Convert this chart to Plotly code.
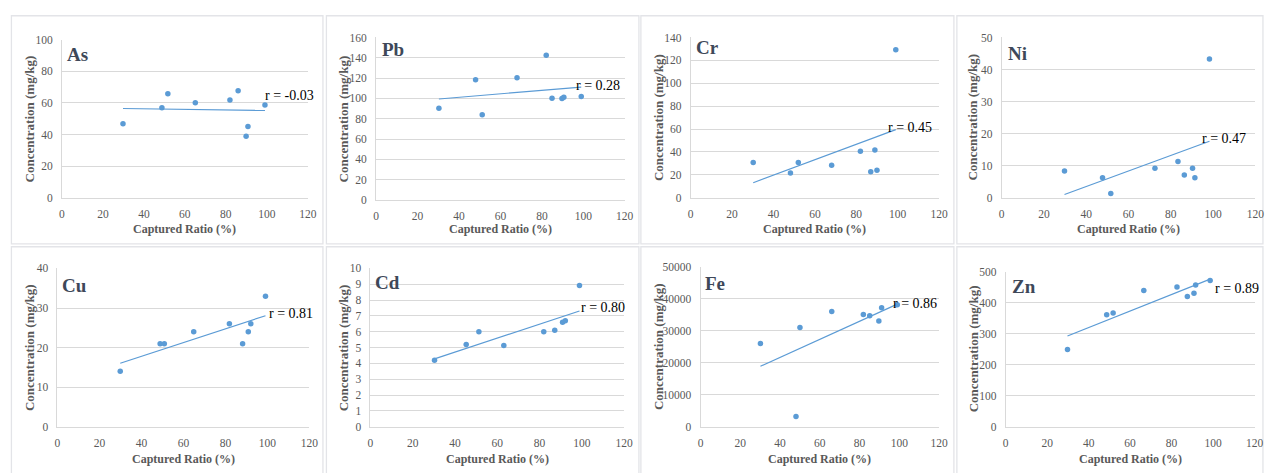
import numpy as np
import plotly.graph_objects as go

# ---------------- data ----------------
elements = ["As", "Pb", "Cr", "Ni", "Cu", "Cd", "Fe", "Zn"]
r_labels = ["r = -0.03", "r = 0.28", "r = 0.45", "r = 0.47", "r = 0.81", "r = 0.80", "r = 0.86", "r = 0.89"]

as_x = [29.8, 48.8, 51.7, 65.1, 82.0, 86.0, 89.9, 90.8, 99.1]
as_y = [46.8, 56.9, 65.7, 60.0, 61.8, 67.6, 38.8, 45.0, 58.7]

pb_x = [30.3, 48.0, 51.2, 68.0, 82.1, 84.9, 89.7, 90.6, 99.0]
pb_y = [90.2, 118.4, 83.8, 120.3, 142.4, 100.2, 100.0, 101.2, 102.0]

cr_x = [30.2, 48.2, 52.0, 68.1, 82.0, 87.0, 89.0, 90.0, 99.1]
cr_y = [30.7, 21.6, 30.7, 28.4, 40.6, 22.7, 41.7, 23.9, 129.2]

ni_x = [29.7, 47.7, 51.6, 72.5, 83.4, 86.4, 90.3, 91.4, 98.3]
ni_y = [8.3, 6.2, 1.3, 9.2, 11.3, 7.1, 9.2, 6.2, 43.3]

cu_x = [29.9, 48.9, 50.9, 64.9, 81.9, 88.2, 90.9, 92.1, 99.1]
cu_y = [14.0, 21.0, 21.0, 24.0, 26.0, 21.0, 24.0, 26.0, 33.0]

cd_x = [30.3, 45.3, 51.3, 63.1, 82.0, 87.2, 90.9, 92.2, 98.9]
cd_y = [4.2, 5.2, 6.0, 5.13, 6.0, 6.1, 6.6, 6.7, 8.93]

fe_x = [30.1, 48.0, 50.0, 66.0, 81.9, 85.1, 89.7, 91.1, 99.0]
fe_y = [26000, 3200, 31000, 36000, 35000, 34600, 33000, 37100, 38100]

zn_x = [29.8, 48.7, 51.8, 66.6, 82.6, 87.6, 90.8, 91.6, 98.6]
zn_y = [249.5, 361.6, 366.9, 440.0, 450.7, 420.0, 430.8, 457.0, 471.7]

xs = [as_x, pb_x, cr_x, ni_x, cu_x, cd_x, fe_x, zn_x]
ys = [as_y, pb_y, cr_y, ni_y, cu_y, cd_y, fe_y, zn_y]

y_max = [100, 160, 140, 50, 40, 10, 50000, 500]
y_step = [20, 20, 20, 10, 10, 1, 10000, 100]
x_max = 120
x_step = 20

# ---------------- layout (pixels of the 1266x473 page) ----------------
W, H = 1266, 473
def fx(p): return p / W
def fy(p): return 1 - p / H

plot_px = [
    (59.5, 307.7, 34.5, 196.7),
    (376.7, 627.7, 32.3, 199.0),
    (694.3, 945.0, 32.3, 196.7),
    (1008.3, 1264.3, 32.3, 196.7),
    (55.0, 309.3, 269.3, 431.7),
    (371.0, 627.0, 269.3, 431.7),
    (704.3, 945.0, 267.3, 431.7),
    (1012.3, 1263.5, 272.7, 431.7),
]
panel_px = [
    (8.5, 323, 10, 244), (326.5, 642, 10, 244), (644, 960, 10, 244), (963, 1272, 10, 244),
    (8.5, 323, 247, 480), (326.5, 642, 247, 480), (644, 960, 247, 480), (963, 1272, 247, 480),
]
title_px = [(64.3, 50), (382.3, 44.3), (700, 42.3), (1015, 48.3),
            (59.3, 286.7), (375.7, 284), (708.3, 284.3), (1019, 288.3)]
r_px = [(265, 92), (579.3, 81.7), (894, 125), (1211, 136),
        (269.3, 315.7), (584.3, 309), (899.3, 305.7), (1224.3, 290.3)]
ytitle_x = [27, 344, 661.7, 979.3, 26.7, 344, 661.7, 979.3]
xtitle_y = [228.3, 228.3, 228.3, 228.3, 464.3, 464.3, 464.3, 464.3]

BLUE = "#5B9BD5"
SERIF = "Liberation Serif"
TICK_COL = "#595959"
GRID = "#D9D9D9"

fig = go.Figure()
layout = dict(
    width=W, height=H, margin=dict(l=0, r=0, t=0, b=0),
    paper_bgcolor="white", plot_bgcolor="white", showlegend=False,
    font=dict(family=SERIF, color=TICK_COL, size=11),
)
annotations = []
shapes = []

for i in range(8):
    n = "" if i == 0 else str(i + 1)
    xa, ya = "x" + n, "y" + n
    l, r, t, b = plot_px[i]
    x = np.array(xs[i], dtype=float)
    y = np.array(ys[i], dtype=float)

    fig.add_trace(go.Scatter(x=x, y=y, mode="markers", xaxis=xa, yaxis=ya,
                             marker=dict(color=BLUE, size=5.5), hoverinfo="x+y"))
    k, c = np.polyfit(x, y, 1)
    tx = np.array([x.min(), x.max()])
    fig.add_trace(go.Scatter(x=tx, y=k * tx + c, mode="lines", xaxis=xa, yaxis=ya,
                             line=dict(color=BLUE, width=1.2), hoverinfo="skip"))

    layout["xaxis" + n] = dict(
        domain=[fx(l), fx(r)], anchor=ya, range=[0, x_max], dtick=x_step,
        showgrid=False, zeroline=False, showline=True, linecolor=GRID, linewidth=1,
        ticks="outside", ticklen=5, tickcolor="rgba(0,0,0,0)",
        tickfont=dict(family=SERIF, size=11.5, color=TICK_COL), fixedrange=True,
    )
    layout["yaxis" + n] = dict(
        domain=[fy(b), fy(t)], anchor=xa, range=[0, y_max[i]], dtick=y_step[i],
        tickformat="d", showgrid=True, gridcolor=GRID, gridwidth=1, zeroline=False,
        showline=True, linecolor=GRID, linewidth=1,
        ticks="outside", ticklen=6, tickcolor="rgba(0,0,0,0)",
        tickfont=dict(family=SERIF, size=11.5, color=TICK_COL), fixedrange=True,
    )

    pl, pr, pt, pb = panel_px[i]
    shapes.append(dict(type="rect", xref="paper", yref="paper",
                       x0=fx(pl), x1=fx(pr), y0=fy(pb), y1=fy(pt),
                       line=dict(color="#E3E4E8", width=1.3), layer="below"))

    tx_, ty_ = title_px[i]
    annotations.append(dict(text="<b>%s</b>" % elements[i], xref="paper", yref="paper",
                            x=fx(tx_ - 2), y=fy(ty_), xanchor="left", yanchor="middle",
                            showarrow=False, font=dict(family=SERIF, size=19, color="#3E4859")))
    rx, ry = r_px[i]
    annotations.append(dict(text=r_labels[i], xref="paper", yref="paper",
                            x=fx(rx - 2.5), y=fy(ry), xanchor="left", yanchor="middle",
                            showarrow=False, font=dict(family=SERIF, size=14, color="black")))
    annotations.append(dict(text="<b>Concentration (mg/kg)</b>", xref="paper", yref="paper",
                            x=fx(ytitle_x[i]), y=fy((t + b) / 2), xanchor="center", yanchor="middle",
                            textangle=-90, showarrow=False,
                            font=dict(family=SERIF, size=13, color=TICK_COL)))
    annotations.append(dict(text="<b>Captured Ratio (%)</b>", xref="paper", yref="paper",
                            x=fx((l + r) / 2), y=fy(xtitle_y[i]), xanchor="center", yanchor="middle",
                            showarrow=False, font=dict(family=SERIF, size=12, color=TICK_COL)))

layout["annotations"] = annotations
layout["shapes"] = shapes
fig.update_layout(**layout)
fig.write_html("out.html", config={"displayModeBar": False},
               post_script="document.body.style.margin='0';document.body.style.overflow='hidden';")
